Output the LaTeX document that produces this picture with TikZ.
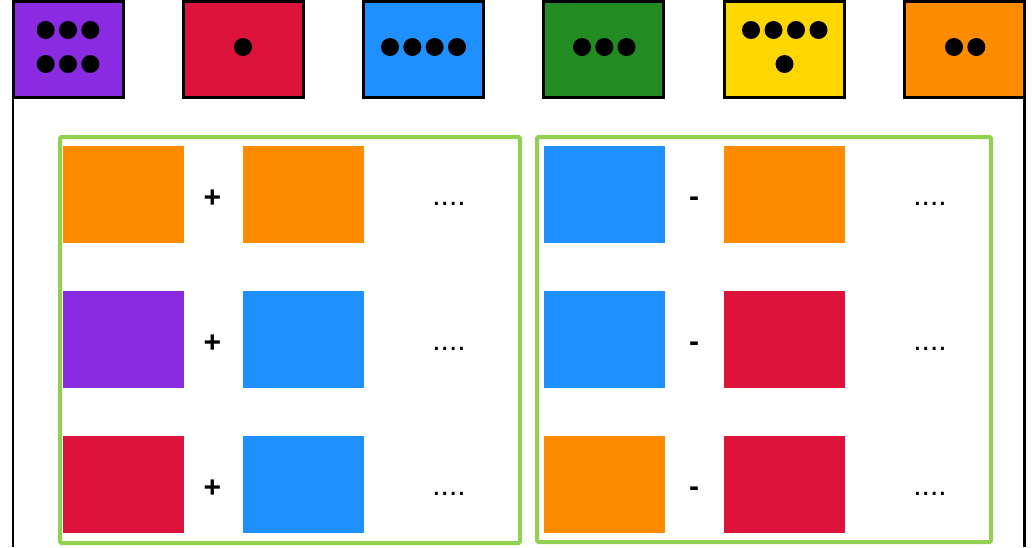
\documentclass[tikz,border=0pt]{standalone}
\usepackage{fontspec}
\setmainfont{Liberation Sans}
\definecolor{cpurple}{HTML}{8A2BE2}
\definecolor{cred}{HTML}{DC143C}
\definecolor{cblue}{HTML}{1E90FF}
\definecolor{cgreen}{HTML}{228B22}
\definecolor{cyellow}{HTML}{FFD700}
\definecolor{corange}{HTML}{FF8C00}
\definecolor{framegreen}{HTML}{92D050}
\begin{document}
\begin{tikzpicture}[x=1pt,y=-1pt,
  topbox/.style={draw=black,line width=3pt,minimum width=120pt,minimum height=96pt,inner sep=0pt},
  tile/.style={minimum width=121pt,minimum height=97pt,inner sep=0pt},
  opsign/.style={font=\fontsize{30}{30}\selectfont\bfseries,inner sep=0pt,anchor=base},
  etc/.style={font=\fontsize{30}{30}\selectfont,inner sep=0pt,anchor=base},
  pip/.style={fill=black},
  group/.style={draw=framegreen,line width=4pt,rounded corners=1.5pt}]
\useasboundingbox (0,0) rectangle (1032,547);
% outer side lines
\draw[line width=2.5pt] (13,97) -- (13,547);
\draw[line width=2.5pt] (1024.5,97) -- (1024.5,547);
% top boxes
\node[topbox,fill=cpurple,minimum width=110pt] (t1) at (68,49.5) {};
\node[topbox,fill=cred] (t2) at (243,49.5) {};
\node[topbox,fill=cblue] (t3) at (423,49.5) {};
\node[topbox,fill=cgreen] (t4) at (603.5,49.5) {};
\node[topbox,fill=cyellow] (t5) at (784,49.5) {};
\node[topbox,fill=corange] (t6) at (964,49.5) {};
% pips
\foreach \x in {45.7,68,90.3}{\fill[pip] (\x,30) circle (9); \fill[pip] (\x,64) circle (9);}
\fill[pip] (243,47) circle (9);
\foreach \x in {390,412.3,434.6,457}{\fill[pip] (\x,47) circle (9);}
\foreach \x in {582,604.3,626.5}{\fill[pip] (\x,47) circle (9);}
\foreach \x in {751,773.5,796,818.5}{\fill[pip] (\x,30) circle (9);}
\fill[pip] (784.5,64) circle (9);
\foreach \x in {954,976.3}{\fill[pip] (\x,47) circle (9);}
% group frames
\draw[group] (60,137) rectangle (520,543);
\draw[group] (537,137) rectangle (991,542);
% left group rows
\node[tile,fill=corange] (a1) at (123,194) {};
\node[tile,fill=corange] (b1) at (303.5,194) {};
\node[tile,fill=cpurple] (a2) at (123,339) {};
\node[tile,fill=cblue] (b2) at (303.5,339) {};
\node[tile,fill=cred] (a3) at (123,484.5) {};
\node[tile,fill=cblue] (b3) at (303.5,484.5) {};
\node[opsign] (p1) at (212.5,207.5) {+};
\node[opsign] (p2) at (212.5,352.5) {+};
\node[opsign] (p3) at (212.5,497.5) {+};
\node[etc] (d1) at (449,205) {....};
\node[etc] (d2) at (449,350) {....};
\node[etc] (d3) at (449,495) {....};
% right group rows
\node[tile,fill=cblue] (c1) at (604.5,194) {};
\node[tile,fill=corange] (f1) at (784.5,194) {};
\node[tile,fill=cblue] (c2) at (604.5,339) {};
\node[tile,fill=cred] (f2) at (784.5,339) {};
\node[tile,fill=corange] (c3) at (604.5,484.5) {};
\node[tile,fill=cred] (f3) at (784.5,484.5) {};
\node[opsign] (m1) at (694,206) {-};
\node[opsign] (m2) at (694,351) {-};
\node[opsign] (m3) at (694,496) {-};
\node[etc] (g1) at (930,205) {....};
\node[etc] (g2) at (930,350) {....};
\node[etc] (g3) at (930,495) {....};
\end{tikzpicture}
\end{document}
